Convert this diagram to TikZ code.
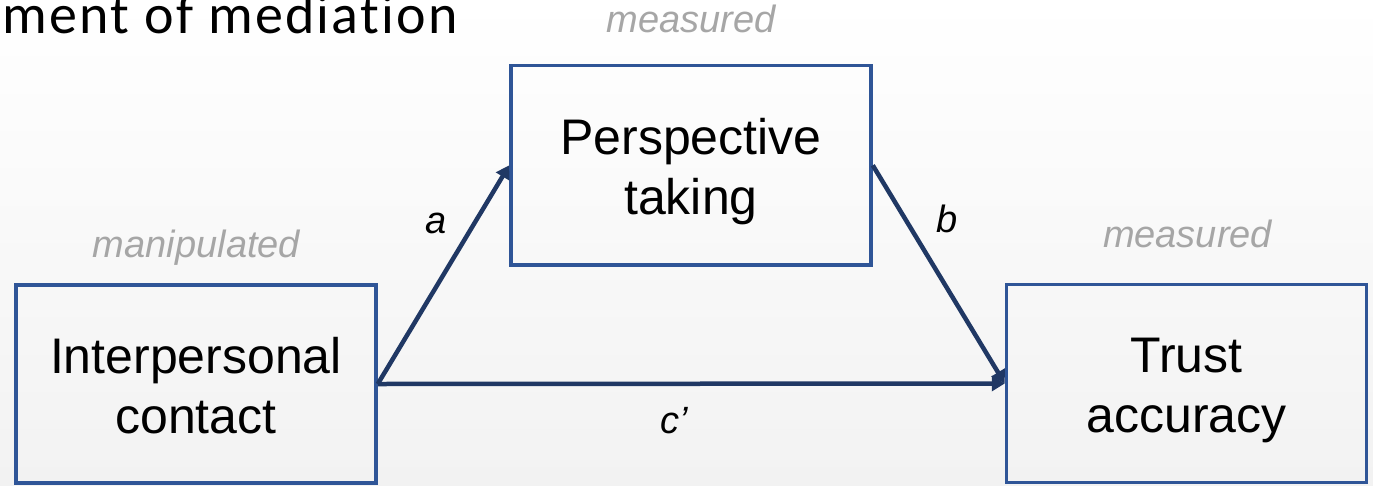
\documentclass[tikz,border=0pt]{standalone}
\usepackage{fontspec}
\setmainfont{Liberation Sans}
\newfontfamily\titlefont[LetterSpace=4,Ligatures={NoCommon}]{Carlito}
\usetikzlibrary{arrows.meta}
\definecolor{boxblue}{RGB}{47,85,151}
\definecolor{arrowblue}{RGB}{32,56,100}
\definecolor{labelgray}{RGB}{166,166,166}
\definecolor{bgbottom}{RGB}{242,242,242}
\newcommand\boxstrut{\rule[-11pt]{0pt}{60pt}}
\begin{document}
\begin{tikzpicture}[x=1pt,y=-1pt,
  varbox/.style={draw=boxblue, line width=3.5pt, minimum width=360pt, minimum height=198pt,
    align=center, inner sep=0pt, font=\fontsize{50}{60}\selectfont},
  conn/.style={draw=arrowblue, line width=4.5pt, -{Triangle[length=13pt,width=15pt]}},
  tag/.style={font=\fontsize{38}{45}\selectfont\itshape, text=labelgray, inner sep=0pt},
  coef/.style={font=\fontsize{38}{45}\selectfont\itshape, text=black, inner sep=0pt}]
\shade[top color=white, bottom color=bgbottom] (0,0) rectangle (1373,485);
\useasboundingbox (0,0) rectangle (1373,485);
\node[anchor=base east, inner sep=0pt, font=\titlefont\fontsize{56}{60}\selectfont] (title) at (458,33) {ment of mediat{}ion};
\node[varbox] (left) at (196,384) {\boxstrut Interpersonal\\\boxstrut contact};
\node[varbox, minimum height=199.5pt] (mid) at (691,165.3) {\boxstrut Perspective\\\boxstrut taking};
\node[varbox] (right) at (1186.5,383.5) {\boxstrut Trust\\\boxstrut accuracy};
\node[tag, anchor=base] (manip) at (196.5,257) {manipulated};
\node[tag, anchor=base] (meas1) at (691,32) {measured};
\node[tag, anchor=base] (meas2) at (1187.5,247) {measured};
\draw[conn] (left.east) -- (mid.west);
\draw[conn] (mid.east) -- (right.west);
\draw[conn] (left.east) -- (right.west);
\node[coef, anchor=base] (la) at (436,233) {a};
\node[coef, anchor=base] (lb) at (947,232) {b};
\node[coef, anchor=base] (lc) at (674,433) {c’};
\end{tikzpicture}
\end{document}
